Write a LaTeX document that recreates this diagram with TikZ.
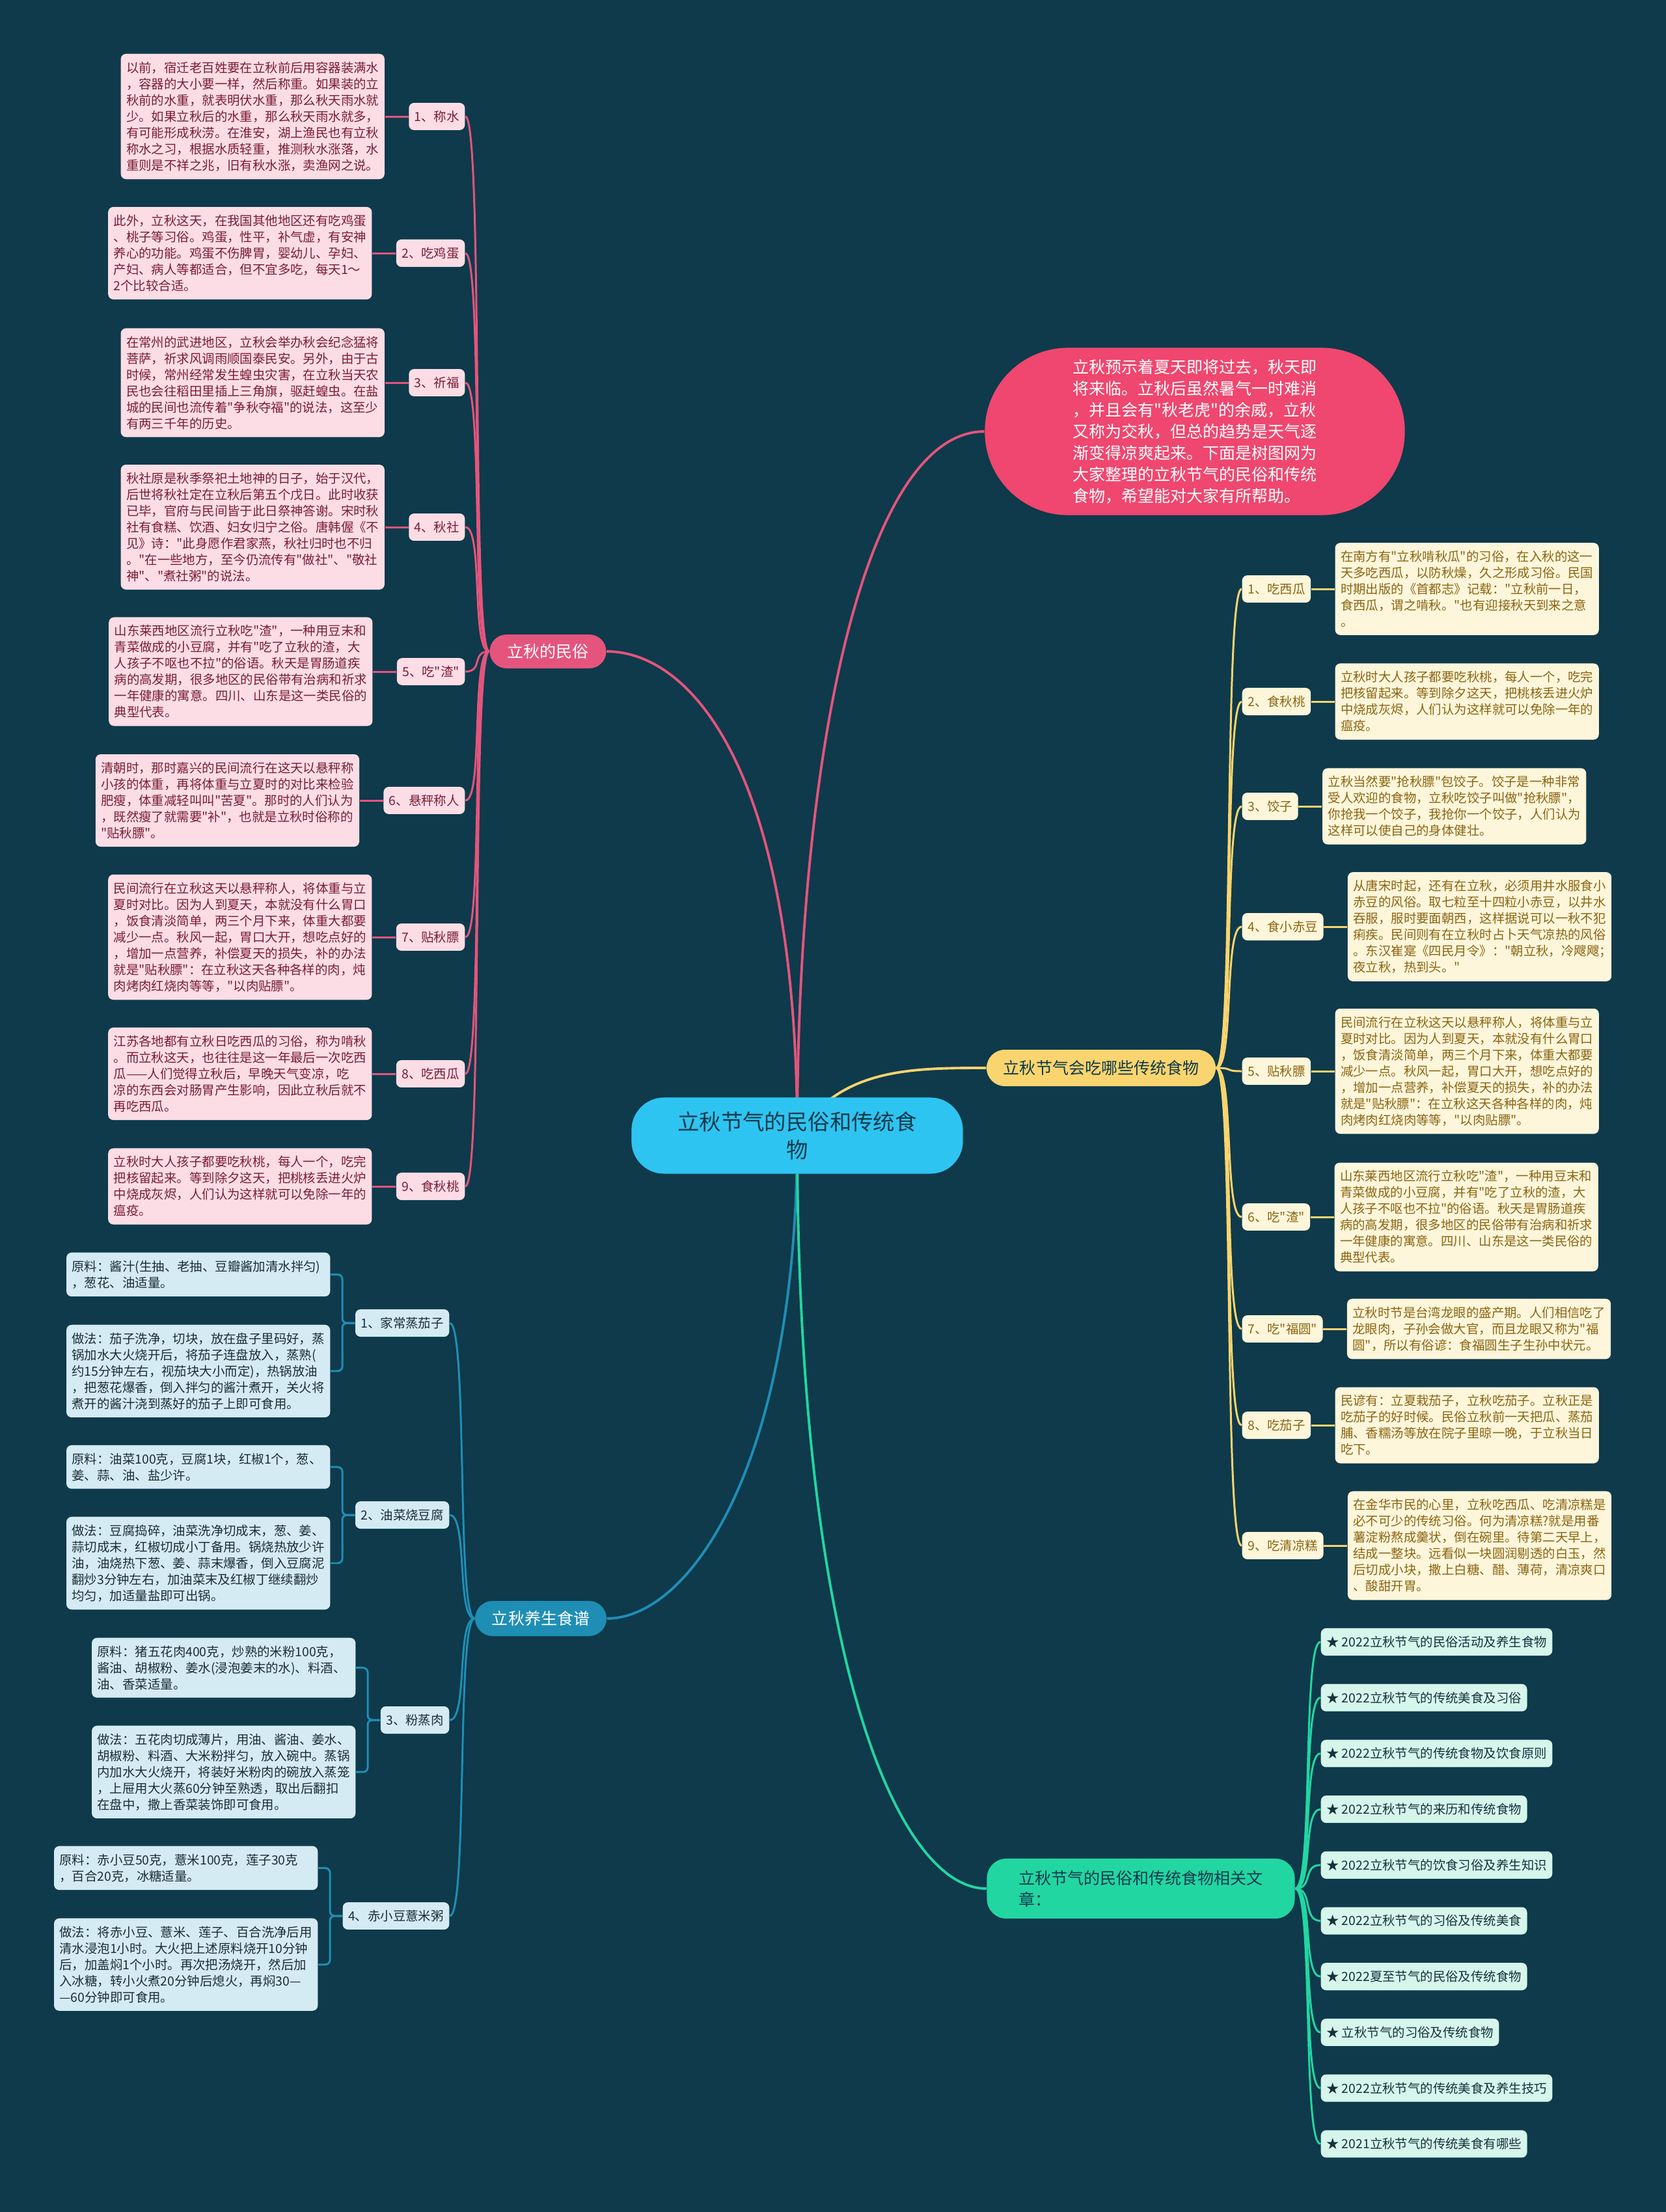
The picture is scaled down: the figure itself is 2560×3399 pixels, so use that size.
\documentclass[tikz,border=0pt]{standalone}
\usepackage{fontspec}
\setmainfont{Noto Sans CJK SC}[Ligatures=TeXOff]
\usepackage{xcolor}
\usetikzlibrary{positioning,backgrounds}

\definecolor{bg}{HTML}{0E3A4B}
\definecolor{hubc}{HTML}{2EC4F1}
\definecolor{hubtext}{HTML}{0E3A4B}
\definecolor{introc}{HTML}{EF476F}
\definecolor{folkc}{HTML}{E5547C}
\definecolor{folkfill}{HTML}{FCDDE5}
\definecolor{folktext}{HTML}{7A1C35}
\definecolor{foodc}{HTML}{FAD46E}
\definecolor{foodfill}{HTML}{FEF6DB}
\definecolor{foodtext}{HTML}{8A6411}
\definecolor{dishc}{HTML}{1F8EB5}
\definecolor{dishfill}{HTML}{D4EBF4}
\definecolor{dishtext}{HTML}{1C2D38}
\definecolor{linkc}{HTML}{22D6A2}
\definecolor{linkfill}{HTML}{D6F6EC}
\definecolor{linktext}{HTML}{14323C}

\begin{document}
\begin{tikzpicture}[x=0.01cm, y=-0.01cm,
    every node/.style={font=\fontsize{5.52pt}{7.11pt}\selectfont},
    leaf/.style={rounded corners=0.08cm, inner xsep=0.085cm, inner ysep=0.12cm, align=left},
    pinkbox/.style={leaf, fill=folkfill, text=folktext, text width=3.88cm},
    pinktag/.style={leaf, fill=folkfill, text=folktext, anchor=east},
    goldbox/.style={leaf, fill=foodfill, text=foodtext, text width=3.88cm},
    goldtag/.style={leaf, fill=foodfill, text=foodtext, anchor=west},
    bluebox/.style={leaf, fill=dishfill, text=dishtext, text width=3.88cm, anchor=north east},
    bluetag/.style={leaf, fill=dishfill, text=dishtext, anchor=east},
    linkbox/.style={leaf, fill=linkfill, text=linktext, anchor=west},
    branch/.style={rounded corners=0.27cm, inner xsep=0.27cm, minimum height=0.54cm,
        font=\fontsize{7.11pt}{9.4pt}\selectfont},
    trunk/.style={line width=1.1pt},
    twig/.style={line width=0.85pt}
]
\begin{scope}[on background layer]
  \fill[bg] (0,0) rectangle (2560,3399);
\end{scope}
\useasboundingbox (0,0) rectangle (2560,3399);

\node[fill=hubc, text=hubtext, rounded corners=0.5cm, minimum width=5.09cm, minimum height=1.17cm,
    align=center, font=\fontsize{9.5pt}{12.2pt}\selectfont] (hub) at (1225,1745)
    {立秋节气的民俗和传统食\\物};

\node[fill=introc, text=white, rounded corners=1.28cm, minimum width=6.45cm, minimum height=2.57cm,
    align=left, font=\fontsize{7.11pt}{9.4pt}\selectfont] (intro) at (1836,663)
    {立秋预示着夏天即将过去，秋天即\\将来临。立秋后虽然暑气一时难消\\，并且会有"秋老虎"的余威，立秋\\又称为交秋，但总的趋势是天气逐\\渐变得凉爽起来。下面是树图网为\\大家整理的立秋节气的民俗和传统\\食物，希望能对大家有所帮助。};

\node[branch, fill=folkc, text=white, rounded corners=0.26cm, minimum height=0.52cm] (folk) at (842,1001) {立秋的民俗};
\node[branch, fill=foodc, text=hubtext, inner xsep=0.26cm, rounded corners=0.28cm, minimum height=0.56cm] (food) at (1692,1641) {立秋节气会吃哪些传统食物};
\node[branch, fill=dishc, text=white, inner xsep=0.26cm] (dish) at (831,2487) {立秋养生食谱};
\node[branch, fill=linkc, text=hubtext, align=left, inner xsep=0.49cm, inner ysep=0.18cm, rounded corners=0.3cm] (links) at (1753,2902)
    {立秋节气的民俗和传统食物相关文\\章：};

% 立秋的民俗
\node[pinktag] (lm1) at (715,179) {1、称水};
\node[pinktag] (lm2) at (715,389) {2、吃鸡蛋};
\node[pinktag] (lm3) at (715,588) {3、祈福};
\node[pinktag] (lm4) at (715,810) {4、秋社};
\node[pinktag] (lm5) at (715,1032) {5、吃"渣"};
\node[pinktag] (lm6) at (715,1230) {6、悬秤称人};
\node[pinktag] (lm7) at (715,1440) {7、贴秋膘};
\node[pinktag] (lm8) at (715,1650) {8、吃西瓜};
\node[pinktag] (lm9) at (715,1823) {9、食秋桃};

\node[pinkbox, left=0.36cm of lm1] (m1) {以前，宿迁老百姓要在立秋前后用容器装满水\\，容器的大小要一样，然后称重。如果装的立\\秋前的水重，就表明伏水重，那么秋天雨水就\\少。如果立秋后的水重，那么秋天雨水就多，\\有可能形成秋涝。在淮安，湖上渔民也有立秋\\称水之习，根据水质轻重，推测秋水涨落，水\\重则是不祥之兆，旧有秋水涨，卖渔网之说。};
\node[pinkbox, left=0.36cm of lm2] (m2) {此外，立秋这天，在我国其他地区还有吃鸡蛋\\、桃子等习俗。鸡蛋，性平，补气虚，有安神\\养心的功能。鸡蛋不伤脾胃，婴幼儿、孕妇、\\产妇、病人等都适合，但不宜多吃，每天1～\\2个比较合适。};
\node[pinkbox, left=0.36cm of lm3] (m3) {在常州的武进地区，立秋会举办秋会纪念猛将\\菩萨，祈求风调雨顺国泰民安。另外，由于古\\时候，常州经常发生蝗虫灾害，在立秋当天农\\民也会往稻田里插上三角旗，驱赶蝗虫。在盐\\城的民间也流传着"争秋夺福"的说法，这至少\\有两三千年的历史。};
\node[pinkbox, left=0.36cm of lm4] (m4) {秋社原是秋季祭祀土地神的日子，始于汉代，\\后世将秋社定在立秋后第五个戊日。此时收获\\已毕，官府与民间皆于此日祭神答谢。宋时秋\\社有食糕、饮酒、妇女归宁之俗。唐韩偓《不\\见》诗："此身愿作君家燕，秋社归时也不归\\。"在一些地方，至今仍流传有"做社"、"敬社\\神"、"煮社粥"的说法。};
\node[pinkbox, left=0.36cm of lm5] (m5) {山东莱西地区流行立秋吃"渣"，一种用豆末和\\青菜做成的小豆腐，并有"吃了立秋的渣，大\\人孩子不呕也不拉"的俗语。秋天是胃肠道疾\\病的高发期，很多地区的民俗带有治病和祈求\\一年健康的寓意。四川、山东是这一类民俗的\\典型代表。};
\node[pinkbox, left=0.36cm of lm6] (m6) {清朝时，那时嘉兴的民间流行在这天以悬秤称\\小孩的体重，再将体重与立夏时的对比来检验\\肥瘦，体重减轻叫叫"苦夏"。那时的人们认为\\，既然瘦了就需要"补"，也就是立秋时俗称的\\"贴秋膘"。};
\node[pinkbox, left=0.36cm of lm7] (m7) {民间流行在立秋这天以悬秤称人，将体重与立\\夏时对比。因为人到夏天，本就没有什么胃口\\，饭食清淡简单，两三个月下来，体重大都要\\减少一点。秋风一起，胃口大开，想吃点好的\\，增加一点营养，补偿夏天的损失，补的办法\\就是"贴秋膘"：在立秋这天各种各样的肉，炖\\肉烤肉红烧肉等等，"以肉贴膘"。};
\node[pinkbox, left=0.36cm of lm8] (m8) {江苏各地都有立秋日吃西瓜的习俗，称为啃秋\\。而立秋这天，也往往是这一年最后一次吃西\\瓜——人们觉得立秋后，早晚天气变凉，吃\\凉的东西会对肠胃产生影响，因此立秋后就不\\再吃西瓜。};
\node[pinkbox, left=0.36cm of lm9] (m9) {立秋时大人孩子都要吃秋桃，每人一个，吃完\\把核留起来。等到除夕这天，把桃核丢进火炉\\中烧成灰烬，人们认为这样就可以免除一年的\\瘟疫。};

% 传统食物
\node[goldtag] (lf1) at (1908,905) {1、吃西瓜};
\node[goldtag] (lf2) at (1908,1078) {2、食秋桃};
\node[goldtag] (lf3) at (1908,1239) {3、饺子};
\node[goldtag] (lf4) at (1908,1424) {4、食小赤豆};
\node[goldtag] (lf5) at (1908,1646) {5、贴秋膘};
\node[goldtag] (lf6) at (1908,1870) {6、吃"渣"};
\node[goldtag] (lf7) at (1908,2042) {7、吃"福圆"};
\node[goldtag] (lf8) at (1908,2190) {8、吃茄子};
\node[goldtag] (lf9) at (1908,2375) {9、吃清凉糕};

\node[goldbox, right=0.36cm of lf1] (f1) {在南方有"立秋啃秋瓜"的习俗，在入秋的这一\\天多吃西瓜，以防秋燥，久之形成习俗。民国\\时期出版的《首都志》记载："立秋前一日，\\食西瓜，谓之啃秋。"也有迎接秋天到来之意\\。};
\node[goldbox, right=0.36cm of lf2] (f2) {立秋时大人孩子都要吃秋桃，每人一个，吃完\\把核留起来。等到除夕这天，把桃核丢进火炉\\中烧成灰烬，人们认为这样就可以免除一年的\\瘟疫。};
\node[goldbox, right=0.36cm of lf3] (f3) {立秋当然要"抢秋膘"包饺子。饺子是一种非常\\受人欢迎的食物，立秋吃饺子叫做"抢秋膘"，\\你抢我一个饺子，我抢你一个饺子，人们认为\\这样可以使自己的身体健壮。};
\node[goldbox, right=0.36cm of lf4] (f4) {从唐宋时起，还有在立秋，必须用井水服食小\\赤豆的风俗。取七粒至十四粒小赤豆，以井水\\吞服，服时要面朝西，这样据说可以一秋不犯\\痢疾。民间则有在立秋时占卜天气凉热的风俗\\。东汉崔寔《四民月令》："朝立秋，冷飕飕；\\夜立秋，热到头。"};
\node[goldbox, right=0.36cm of lf5] (f5) {民间流行在立秋这天以悬秤称人，将体重与立\\夏时对比。因为人到夏天，本就没有什么胃口\\，饭食清淡简单，两三个月下来，体重大都要\\减少一点。秋风一起，胃口大开，想吃点好的\\，增加一点营养，补偿夏天的损失，补的办法\\就是"贴秋膘"：在立秋这天各种各样的肉，炖\\肉烤肉红烧肉等等，"以肉贴膘"。};
\node[goldbox, right=0.36cm of lf6] (f6) {山东莱西地区流行立秋吃"渣"，一种用豆末和\\青菜做成的小豆腐，并有"吃了立秋的渣，大\\人孩子不呕也不拉"的俗语。秋天是胃肠道疾\\病的高发期，很多地区的民俗带有治病和祈求\\一年健康的寓意。四川、山东是这一类民俗的\\典型代表。};
\node[goldbox, right=0.36cm of lf7] (f7) {立秋时节是台湾龙眼的盛产期。人们相信吃了\\龙眼肉，子孙会做大官，而且龙眼又称为"福\\圆"，所以有俗谚：食福圆生子生孙中状元。};
\node[goldbox, right=0.36cm of lf8] (f8) {民谚有：立夏栽茄子，立秋吃茄子。立秋正是\\吃茄子的好时候。民俗立秋前一天把瓜、蒸茄\\脯、香糯汤等放在院子里晾一晚，于立秋当日\\吃下。};
\node[goldbox, right=0.36cm of lf9] (f9) {在金华市民的心里，立秋吃西瓜、吃清凉糕是\\必不可少的传统习俗。何为清凉糕?就是用番\\薯淀粉熬成羹状，倒在碗里。待第二天早上，\\结成一整块。远看似一块圆润剔透的白玉，然\\后切成小块，撒上白糖、醋、薄荷，清凉爽口\\、酸甜开胃。};

% 养生食谱
\node[bluetag] (ld1) at (691,2033) {1、家常蒸茄子};
\node[bluetag] (ld2) at (691,2328) {2、油菜烧豆腐};
\node[bluetag] (ld3) at (691,2643) {3、粉蒸肉};
\node[bluetag] (ld4) at (691,2944) {4、赤小豆薏米粥};

\node[bluebox] (d1a) at (508,1924) {原料：酱汁(生抽、老抽、豆瓣酱加清水拌匀)\\，葱花、油适量。};
\node[bluebox] (d1b) at (508,2035) {做法：茄子洗净，切块，放在盘子里码好，蒸\\锅加水大火烧开后，将茄子连盘放入，蒸熟(\\约15分钟左右，视茄块大小而定)，热锅放油\\，把葱花爆香，倒入拌匀的酱汁煮开，关火将\\煮开的酱汁浇到蒸好的茄子上即可食用。};
\node[bluebox] (d2a) at (508,2220) {原料：油菜100克，豆腐1块，红椒1个，葱、\\姜、蒜、油、盐少许。};
\node[bluebox] (d2b) at (508,2330) {做法：豆腐捣碎，油菜洗净切成末，葱、姜、\\蒜切成末，红椒切成小丁备用。锅烧热放少许\\油，油烧热下葱、姜、蒜末爆香，倒入豆腐泥\\翻炒3分钟左右，加油菜末及红椒丁继续翻炒\\均匀，加适量盐即可出锅。};
\node[bluebox] (d3a) at (547,2516) {原料：猪五花肉400克，炒熟的米粉100克，\\酱油、胡椒粉、姜水(浸泡姜末的水)、料酒、\\油、香菜适量。};
\node[bluebox] (d3b) at (547,2651) {做法：五花肉切成薄片，用油、酱油、姜水、\\胡椒粉、料酒、大米粉拌匀，放入碗中。蒸锅\\内加水大火烧开，将装好米粉肉的碗放入蒸笼\\，上屉用大火蒸60分钟至熟透，取出后翻扣\\在盘中，撒上香菜装饰即可食用。};
\node[bluebox] (d4a) at (489,2836) {原料：赤小豆50克，薏米100克，莲子30克\\，百合20克，冰糖适量。};
\node[bluebox] (d4b) at (489,2947) {做法：将赤小豆、薏米、莲子、百合洗净后用\\清水浸泡1小时。大火把上述原料烧开10分钟\\后，加盖焖1个小时。再次把汤烧开，然后加\\入冰糖，转小火煮20分钟后熄火，再焖30—\\—60分钟即可食用。};

% 相关文章
\foreach \t [count=\i] in {2022立秋节气的民俗活动及养生食物, 2022立秋节气的传统美食及习俗,
    2022立秋节气的传统食物及饮食原则, 2022立秋节气的来历和传统食物, 2022立秋节气的饮食习俗及养生知识,
    2022立秋节气的习俗及传统美食, 2022夏至节气的民俗及传统食物, 立秋节气的习俗及传统食物,
    2022立秋节气的传统美食及养生技巧, 2021立秋节气的传统美食有哪些}
  \node[linkbox] (a\i) at (2029,{2523+85.7*(\i-1)}) {★ \t};

\begin{scope}[on background layer]
  \draw[trunk, folkc] (hub.center) .. controls (1225,1150) and (1330,663) .. (intro.west);
  \draw[trunk, folkc] (hub.center) .. controls (1225,1180) and (1060,1001) .. (folk.east);
  \draw[trunk, foodc] (hub.center) .. controls (1290,1641) and (1400,1641) .. (food.west);
  \draw[trunk, dishc] (hub.center) .. controls (1225,2250) and (1060,2487) .. (dish.east);
  \draw[trunk, linkc] (hub.center) .. controls (1225,2550) and (1380,2902) .. (links.west);
  \foreach \i in {1,...,9} {
    \draw[twig, folkc] (folk.west) .. controls +(-28,0) and +(28,0) .. (lm\i.east);
    \draw[twig, folkc] (lm\i.west) -- (m\i.east);
    \draw[twig, foodc] (food.east) .. controls +(28,0) and +(-28,0) .. (lf\i.west);
    \draw[twig, foodc] (lf\i.east) -- (f\i.west);
  }
  \foreach \i in {1,...,4} {
    \draw[twig, dishc] (dish.west) .. controls +(-28,0) and +(28,0) .. (ld\i.east);
    \draw[twig, dishc, rounded corners=0.07cm] (d\i a.east) -- +(18,0) |- (ld\i.west);
    \draw[twig, dishc, rounded corners=0.07cm] (d\i b.east) -- +(18,0) |- (ld\i.west);
  }
  \foreach \i in {1,...,10}
    \draw[twig, linkc] (links.east) .. controls +(28,0) and +(-28,0) .. (a\i.west);
\end{scope}
\end{tikzpicture}
\end{document}
